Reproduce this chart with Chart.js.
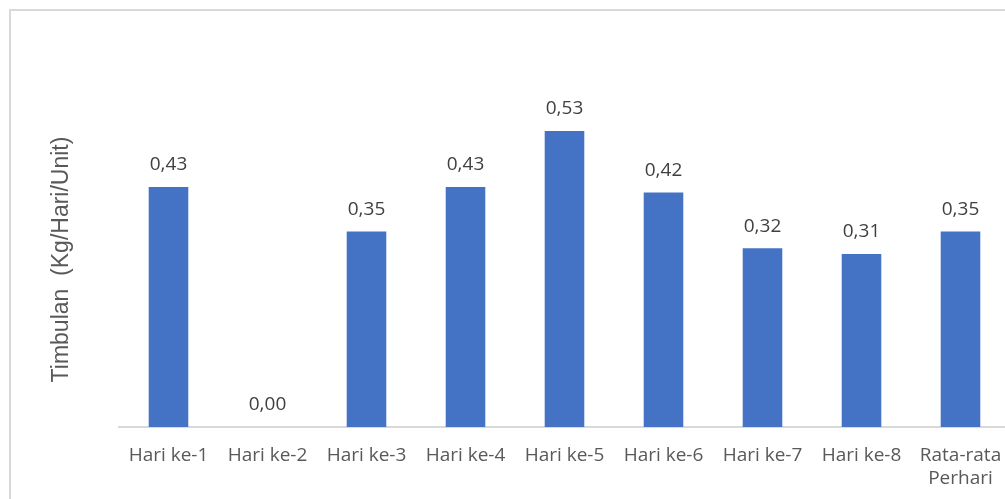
<!DOCTYPE html>
<html>
<head>
<meta charset="utf-8">
<script src="https://cdn.jsdelivr.net/npm/chart.js@4/dist/chart.umd.min.js"></script>
<style>
  html, body { margin: 0; padding: 0; background: #fff; overflow: hidden; }
  #wrap { position: relative; width: 1012px; height: 499px; }
  #frame { position: absolute; left: 9px; top: 9px; width: 1100px; height: 600px; border: 2px solid #d9d9d9; box-sizing: border-box; }
  #chart { position: absolute; left: 0; top: 0; }
</style>
</head>
<body>
<div id="wrap">
  <div id="frame"></div>
  <canvas id="chart"></canvas>
</div>
<script>
// kategori hari dan nilai timbulan
const labels = ['Hari ke-1', 'Hari ke-2', 'Hari ke-3', 'Hari ke-4', 'Hari ke-5', 'Hari ke-6', 'Hari ke-7', 'Hari ke-8', ['Rata-rata', 'Perhari']];
const timbulan = [0.43, 0.00, 0.35, 0.43, 0.53, 0.42, 0.32, 0.31, 0.35];
const yMin = 0;
const yMax = 0.6;

// label nilai di atas batang, format koma desimal
const valueLabels = {
  id: 'valueLabels',
  afterDatasetsDraw(chart) {
    const ctx = chart.ctx;
    const meta = chart.getDatasetMeta(0);
    ctx.save();
    ctx.font = '19px "Open Sans"';
    ctx.fillStyle = '#404040';
    ctx.textAlign = 'center';
    ctx.textBaseline = 'middle';
    meta.data.forEach((bar, i) => {
      const txt = timbulan[i].toFixed(2).replace('.', ',');
      ctx.fillText(txt, bar.x, bar.y - 22);
    });
    ctx.restore();
  }
};

new Chart(document.getElementById('chart'), {
  type: 'bar',
  data: {
    labels: labels,
    datasets: [{
      data: timbulan,
      backgroundColor: '#4472c4',
      categoryPercentage: 1,
      barPercentage: 0.4
    }]
  },
  options: {
    responsive: true,
    maintainAspectRatio: false,
    animation: false,
    layout: { padding: { top: 92, right: 2, left: 48, bottom: 0 } },
    scales: {
      x: {
        grid: { display: false, drawTicks: false },
        border: { display: true, color: '#d9d9d9', width: 2 },
        ticks: {
          color: '#595959',
          font: { family: 'Open Sans', size: 19 },
          padding: 17,
          maxRotation: 0,
          autoSkip: false
        },
        afterFit(scale) {
          scale.height = 72;
          // label terakhir tidak perlu ruang tambahan di kanan
          scale.paddingLeft = 0;
          scale.paddingRight = 0;
        }
      },
      y: {
        min: yMin,
        max: yMax,
        grid: { display: false },
        border: { display: false },
        ticks: { display: false },
        title: {
          display: true,
          text: 'Timbulan  (Kg/Hari/Unit)',
          color: '#595959',
          font: { family: 'Liberation Sans', size: 23 },
          padding: 0
        },
        afterFit(scale) { scale.width = 71; }
      }
    },
    plugins: {
      legend: { display: false },
      tooltip: { enabled: false }
    }
  },
  plugins: [valueLabels]
});
</script>
</body>
</html>
